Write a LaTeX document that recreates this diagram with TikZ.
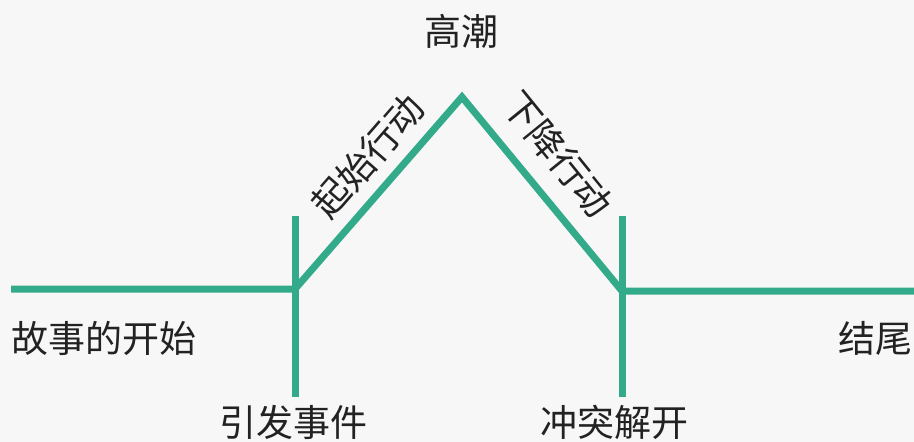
\documentclass[tikz,border=0pt]{standalone}
\usepackage{fontspec}
\setmainfont{Noto Sans CJK SC}
\definecolor{bg}{HTML}{F7F7F7}
\definecolor{teal}{HTML}{33AB8B}
\definecolor{ink}{HTML}{222222}
\begin{document}
\begin{tikzpicture}[x=1pt,y=-1pt,
  plot/.style={draw=teal,line width=7pt},
  lbl/.style={text=ink,font=\fontsize{37}{42}\selectfont,inner sep=0pt}]
\fill[bg] (0,0) rectangle (914,442);
\useasboundingbox (0,0) rectangle (914,442);
\coordinate (l) at (11,289);
\coordinate (a) at (295,289);
\coordinate (p) at (462,97);
\coordinate (b) at (622,291);
\coordinate (r) at (914,291);
\coordinate (at) at (295,216);
\coordinate (ab) at (295,397);
\coordinate (bt) at (622,216);
\coordinate (bb) at (622,397);
\draw[plot,line join=miter] (l) -- (a) -- (p) -- (b) -- (r);
\draw[plot] (at) -- (ab);
\draw[plot] (bt) -- (bb);
\node[lbl,anchor=west] (start) at (11,338) {故事的开始};
\node[lbl,anchor=east] (end) at (913,338) {结尾};
\node[lbl] (inc) at (293,422) {引发事件};
\node[lbl] (res) at (614,422) {冲突解开};
\node[lbl] (cl) at (461,31) {高潮};
\node[lbl,rotate=49] (rise) at (368,156) {起始行动};
\node[lbl,rotate=-51] (fall) at (558,154) {下降行动};
\end{tikzpicture}
\end{document}
